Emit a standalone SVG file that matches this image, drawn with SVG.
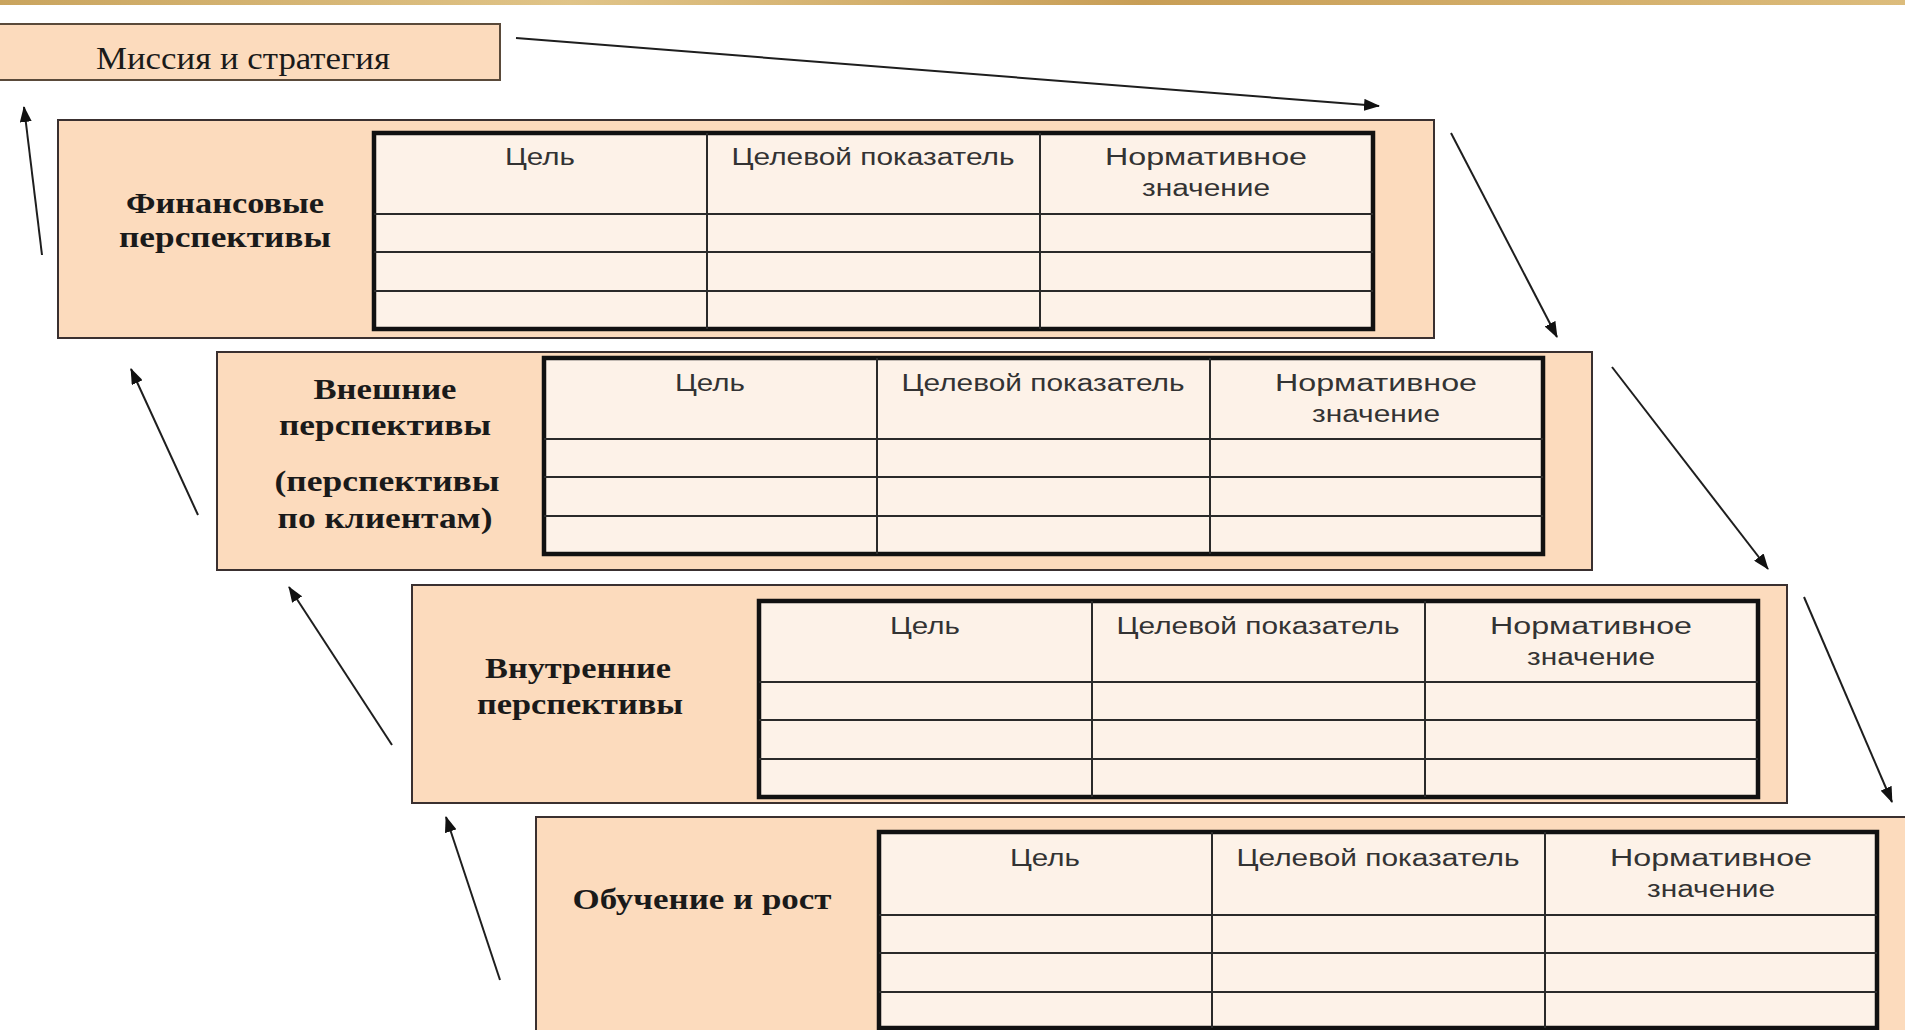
<svg xmlns="http://www.w3.org/2000/svg" width="1905" height="1030" viewBox="0 0 1905 1030">
<defs>
<style>
.panel{fill:#fcdbbd;stroke:#3a3030;stroke-width:2}
.mission{fill:#fcdbbd;stroke:#5a4a3a;stroke-width:2}
.cells{fill:#fdf2e8;stroke:#111;stroke-width:4.5}
.grid{stroke:#2a2a2a;stroke-width:2;fill:none}
.lbl{font-family:"Liberation Serif","Times New Roman",serif;font-weight:bold;font-size:30px;fill:#1a1a1a;text-anchor:middle}
.hdr{font-family:"Liberation Sans",Arial,sans-serif;font-size:23px;fill:#333;text-anchor:middle}
.mtxt{font-family:"Liberation Serif","Times New Roman",serif;font-size:31px;fill:#1a1a1a;text-anchor:middle}
.conn line{stroke:#1e1e1e;stroke-width:2;marker-end:url(#ah)}
</style>
<marker id="ah" markerUnits="userSpaceOnUse" markerWidth="16" markerHeight="12" refX="15" refY="6" orient="auto">
<path d="M0,0 L16,6 L0,12 Z" fill="#111"/>
</marker>
<linearGradient id="gold" x1="0" y1="0" x2="1" y2="0">
<stop offset="0" stop-color="#c9a45e"/>
<stop offset="0.3" stop-color="#e0c488"/>
<stop offset="0.6" stop-color="#c89e56"/>
<stop offset="1" stop-color="#dcbc7c"/>
</linearGradient>
</defs>
<rect x="0" y="0" width="1905" height="1030" fill="#ffffff"/>
<rect x="0" y="0" width="1905" height="5" fill="url(#gold)"/>

<g id="mission">
<rect class="mission" x="-2" y="24" width="502" height="56"/>
<text class="mtxt" x="243" y="69" textLength="294" lengthAdjust="spacingAndGlyphs">Миссия и стратегия</text>
</g>

<g id="panel-financial">
<rect class="panel" x="58" y="120" width="1376" height="218"/>
<rect class="cells" x="374" y="133" width="999" height="196"/>
<path class="grid" d="M374,214H1373M374,252H1373M374,291H1373M707,133V329M1040,133V329"/>
<text class="lbl" x="225" y="213" textLength="198" lengthAdjust="spacingAndGlyphs">Финансовые</text>
<text class="lbl" x="225" y="247" textLength="212" lengthAdjust="spacingAndGlyphs">перспективы</text>
<text class="hdr" x="540" y="165" textLength="70" lengthAdjust="spacingAndGlyphs">Цель</text>
<text class="hdr" x="873" y="165" textLength="283" lengthAdjust="spacingAndGlyphs">Целевой показатель</text>
<text class="hdr" x="1206" y="165" textLength="202" lengthAdjust="spacingAndGlyphs">Нормативное</text>
<text class="hdr" x="1206" y="196" textLength="128" lengthAdjust="spacingAndGlyphs">значение</text>
</g>

<g id="panel-external">
<rect class="panel" x="217" y="352" width="1375" height="218"/>
<rect class="cells" x="544" y="358" width="999" height="196"/>
<path class="grid" d="M544,439H1543M544,477H1543M544,516H1543M877,358V554M1210,358V554"/>
<text class="lbl" x="385" y="399" textLength="143" lengthAdjust="spacingAndGlyphs">Внешние</text>
<text class="lbl" x="385" y="435" textLength="212" lengthAdjust="spacingAndGlyphs">перспективы</text>
<text class="lbl" x="387" y="491" textLength="225" lengthAdjust="spacingAndGlyphs">(перспективы</text>
<text class="lbl" x="385" y="528" textLength="215" lengthAdjust="spacingAndGlyphs">по клиентам)</text>
<text class="hdr" x="710" y="391" textLength="70" lengthAdjust="spacingAndGlyphs">Цель</text>
<text class="hdr" x="1043" y="391" textLength="283" lengthAdjust="spacingAndGlyphs">Целевой показатель</text>
<text class="hdr" x="1376" y="391" textLength="202" lengthAdjust="spacingAndGlyphs">Нормативное</text>
<text class="hdr" x="1376" y="422" textLength="128" lengthAdjust="spacingAndGlyphs">значение</text>
</g>

<g id="panel-internal">
<rect class="panel" x="412" y="585" width="1375" height="218"/>
<rect class="cells" x="759" y="601" width="999" height="196"/>
<path class="grid" d="M759,682H1758M759,720H1758M759,759H1758M1092,601V797M1425,601V797"/>
<text class="lbl" x="578" y="678" textLength="186" lengthAdjust="spacingAndGlyphs">Внутренние</text>
<text class="lbl" x="580" y="714" textLength="206" lengthAdjust="spacingAndGlyphs">перспективы</text>
<text class="hdr" x="925" y="634" textLength="70" lengthAdjust="spacingAndGlyphs">Цель</text>
<text class="hdr" x="1258" y="634" textLength="283" lengthAdjust="spacingAndGlyphs">Целевой показатель</text>
<text class="hdr" x="1591" y="634" textLength="202" lengthAdjust="spacingAndGlyphs">Нормативное</text>
<text class="hdr" x="1591" y="665" textLength="128" lengthAdjust="spacingAndGlyphs">значение</text>
</g>

<g id="panel-learning">
<rect class="panel" x="536" y="817" width="1380" height="230"/>
<rect class="cells" x="879" y="832" width="998" height="196"/>
<path class="grid" d="M879,915H1877M879,953H1877M879,992H1877M1212,832V1028M1545,832V1028"/>
<text class="lbl" x="702" y="909" textLength="259" lengthAdjust="spacingAndGlyphs">Обучение и рост</text>
<text class="hdr" x="1045" y="866" textLength="70" lengthAdjust="spacingAndGlyphs">Цель</text>
<text class="hdr" x="1378" y="866" textLength="283" lengthAdjust="spacingAndGlyphs">Целевой показатель</text>
<text class="hdr" x="1711" y="866" textLength="202" lengthAdjust="spacingAndGlyphs">Нормативное</text>
<text class="hdr" x="1711" y="897" textLength="128" lengthAdjust="spacingAndGlyphs">значение</text>
</g>

<g id="connectors" class="conn">
<line x1="516" y1="38" x2="1379" y2="106"/>
<line x1="1451" y1="133" x2="1557" y2="337"/>
<line x1="1612" y1="367" x2="1768" y2="569"/>
<line x1="1804" y1="597" x2="1892" y2="802"/>
<line x1="42" y1="255" x2="24" y2="107"/>
<line x1="198" y1="515" x2="131" y2="369"/>
<line x1="392" y1="745" x2="289" y2="587"/>
<line x1="500" y1="980" x2="446" y2="817"/>
</g>
</svg>
